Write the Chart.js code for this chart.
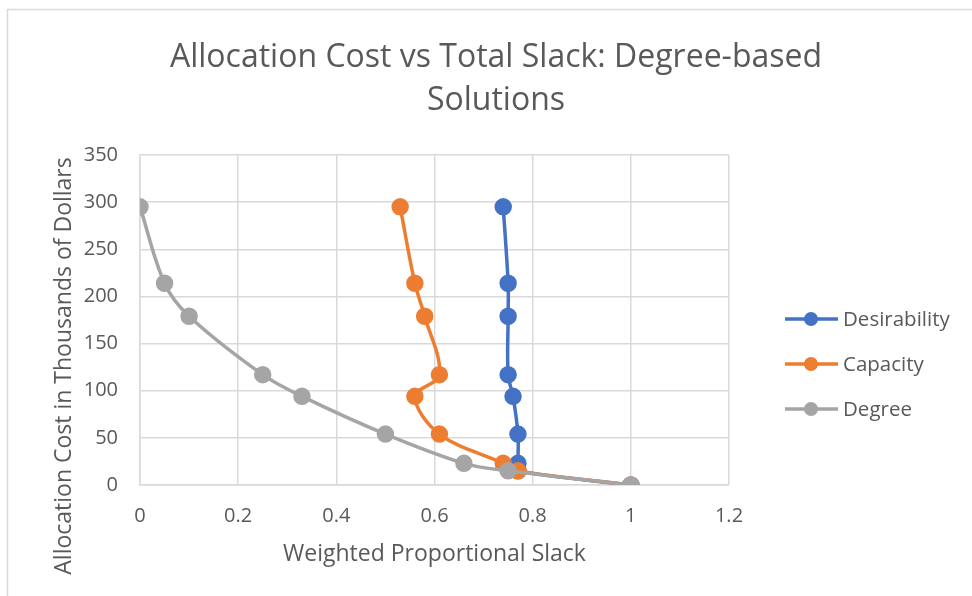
<!DOCTYPE html>
<html>
<head>
<meta charset="utf-8">
<title>Allocation Cost vs Total Slack</title>
<script src="https://cdn.jsdelivr.net/npm/chart.js@4.4.0/dist/chart.umd.min.js"></script>
<style>
  html, body { margin: 0; padding: 0; background: #fff; }
  #wrap { position: relative; width: 972px; height: 596px; }
</style>
</head>
<body>
<div id="wrap"><canvas id="chart" width="972" height="596"></canvas></div>
<script>
// values (cost in thousands, slack 0..1)
const seriesNames = ['Desirability', 'Capacity', 'Degree'];
const seriesColors = ['#4472C4', '#ED7D31', '#A5A5A5'];
const costThousands = [295, 214, 179, 117, 94, 54, 23, 15, 0];
const slackDesirability = [0.74, 0.75, 0.75, 0.75, 0.76, 0.77, 0.77, 0.77, 1];
const slackCapacity = [0.53, 0.56, 0.58, 0.61, 0.56, 0.61, 0.74, 0.77, 1];
const slackDegree = [0, 0.05, 0.1, 0.25, 0.33, 0.5, 0.66, 0.75, 1];
const xTicks = [0, 0.2, 0.4, 0.6, 0.8, 1, 1.2];
const yTicks = [0, 50, 100, 150, 200, 250, 300, 350];

const titleLines = ['Allocation Cost vs Total Slack: Degree-based', 'Solutions'];
const xTitle = 'Weighted Proportional Slack';
const yTitle = 'Allocation Cost in Thousands of Dollars';

const FONT = '"Open Sans", "Liberation Sans", sans-serif';
const TEXT = '#595959';

function points(xs) {
    return xs.map((x, i) => ({ x: x, y: costThousands[i] }));
}

const allSlack = [slackDesirability, slackCapacity, slackDegree];

// Excel draws the later series on top, so lower order for later ones
const datasets = seriesNames.map((name, i) => ({
    label: name,
    data: points(allSlack[i]),
    borderColor: seriesColors[i],
    backgroundColor: seriesColors[i],
    pointBackgroundColor: seriesColors[i],
    pointBorderColor: seriesColors[i],
    pointRadius: 7,
    pointHoverRadius: 7,
    borderWidth: 3.5,
    showLine: true,
    tension: 0.35,
    order: seriesNames.length - i
}));

// titles, frame and legend drawn on the canvas
const decorations = {
    id: 'decorations',
    beforeDraw(chart) {
        const ctx = chart.ctx;
        ctx.save();
        ctx.strokeStyle = '#d9d9d9';
        ctx.lineWidth = 1.5;
        ctx.strokeRect(7.5, 9.5, 1200, 1200);
        ctx.restore();
    },
    afterDraw(chart) {
        const ctx = chart.ctx;
        const area = chart.chartArea;
        ctx.save();
        ctx.fillStyle = TEXT;
        ctx.textAlign = 'center';
        ctx.textBaseline = 'alphabetic';

        ctx.font = '32px ' + FONT;
        ctx.fillText(titleLines[0], 496, 67);
        ctx.fillText(titleLines[1], 496, 110);

        ctx.font = '23px ' + FONT;
        ctx.fillText(xTitle, (area.left + area.right) / 2, 561);

        ctx.save();
        ctx.translate(71, 366);
        ctx.rotate(-Math.PI / 2);
        ctx.fillText(yTitle, 0, 0);
        ctx.restore();

        // legend
        ctx.textAlign = 'left';
        ctx.textBaseline = 'middle';
        ctx.font = '20.5px ' + FONT;
        seriesNames.forEach((name, i) => {
            const y = 319 + i * 45;
            ctx.strokeStyle = seriesColors[i];
            ctx.lineWidth = 3.5;
            ctx.beginPath();
            ctx.moveTo(785, y);
            ctx.lineTo(838, y);
            ctx.stroke();
            ctx.fillStyle = seriesColors[i];
            ctx.beginPath();
            ctx.arc(811, y, 7, 0, Math.PI * 2);
            ctx.fill();
            ctx.fillStyle = TEXT;
            ctx.fillText(name, 843, y + 1);
        });
        ctx.restore();
    }
};

const ctx = document.getElementById('chart').getContext('2d');
const chart = new Chart(ctx, {
    type: 'scatter',
    data: { datasets: datasets },
    options: {
        responsive: false,
        animation: false,
        events: [],
        layout: { padding: { left: 0, top: 155, right: 243, bottom: 0 } },
        plugins: {
            legend: { display: false },
            title: { display: false },
            tooltip: { enabled: false }
        },
        scales: {
            x: {
                type: 'linear',
                min: 0,
                max: 1.2,
                afterBuildTicks: s => { s.ticks = xTicks.map(v => ({ value: v })); },
                afterFit: s => { s.height = 111; },
                grid: { color: '#d9d9d9', lineWidth: 1.5, drawTicks: false },
                border: { color: '#d9d9d9', width: 1.5 },
                ticks: {
                    padding: 19,
                    color: TEXT,
                    font: { family: FONT, size: 20 },
                    callback: v => String(v)
                }
            },
            y: {
                type: 'linear',
                min: 0,
                max: 350,
                afterBuildTicks: s => { s.ticks = yTicks.map(v => ({ value: v })); },
                afterFit: s => { s.width = 140; },
                grid: { color: '#d9d9d9', lineWidth: 1.5, drawTicks: false },
                border: { color: '#d9d9d9', width: 1.5 },
                ticks: {
                    padding: 22,
                    color: TEXT,
                    font: { family: FONT, size: 20 },
                    callback: v => String(v)
                }
            }
        }
    },
    plugins: [decorations]
});
</script>
</body>
</html>
